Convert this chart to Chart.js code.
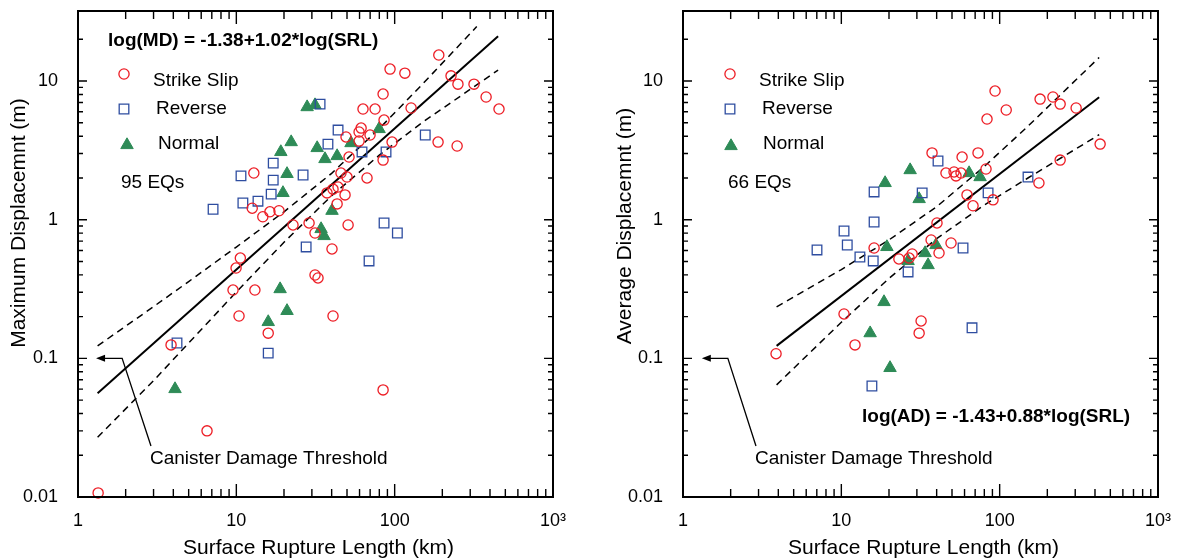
<!DOCTYPE html>
<html>
<head>
<meta charset="utf-8">
<script src="https://cdn.jsdelivr.net/npm/chart.js@4.4.1/dist/chart.umd.min.js"></script>
<style>
  html, body { margin: 0; padding: 0; background: #fff; }
  #wrap { position: relative; width: 1177px; height: 560px; }
  canvas { position: absolute; top: 0; }
  #c1 { left: 0; }
  #c2 { left: 600px; }
</style>
</head>
<body>
<div id="wrap">
  <canvas id="c1" width="590" height="560"></canvas>
  <canvas id="c2" width="577" height="560"></canvas>
</div>
<script>
const FONT = '"Liberation Sans", Arial, Helvetica, sans-serif';
const RED = '#ed1c24', BLUE = '#2e4da0', GREEN = '#2e8b57';

// axis ticks
const xTickVals = [1, 10, 100, 1000];
const xTickLabels = ['1', '10', '100', '10³'];
const yTickVals = [0.01, 0.1, 1, 10];
const yTickLabels = ['0.01', '0.1', '1', '10'];

// ---- left panel: maximum displacement vs surface rupture length ----
const mdSsSrl = [190, 93.5, 116, 227, 251, 317, 378, 456, 84.5, 63.1, 75.2, 127, 85.7, 61.4, 59.6, 69.9, 49.3, 59.6, 96.3, 188,
  248, 84.5, 51.5, 45.8, 50.0, 66.9, 43.9, 40.8, 37.4, 48.6, 43.3, 22.8, 28.8, 31.4, 50.8, 40.2, 31.4, 32.8, 12.9, 12.6,
  14.7, 16.3, 18.6, 10.6, 9.96, 9.53, 13.1, 10.4, 15.9, 40.8, 3.87, 84.5, 6.53, 1.34];
const mdSsMd = [15.4, 12.2, 11.4, 10.9, 9.5, 9.5, 7.67, 6.28, 8.06, 6.28, 6.28, 6.39, 5.23, 4.58, 4.29, 4.08, 3.95, 3.69, 3.63, 3.63,
  3.40, 2.69, 2.83, 2.17, 2.03, 2.00, 1.72, 1.66, 1.56, 1.51, 1.30, 0.916, 0.947, 0.802, 0.916, 0.615, 0.399, 0.380, 2.17, 1.21,
  1.05, 1.14, 1.16, 0.529, 0.448, 0.311, 0.311, 0.202, 0.152, 0.202, 0.125, 0.0592, 0.030, 0.0107];
const mdRvSrl = [33.8, 43.9, 37.9, 62.2, 88.2, 156, 26.4, 85.7, 104, 27.6, 68.9, 17.1, 10.7, 17.1, 16.6, 11.0, 13.7, 7.13, 4.22, 15.9];
const mdRvMd = [6.82, 4.43, 3.51, 3.08, 3.08, 4.08, 2.10, 0.947, 0.802, 0.636, 0.504, 2.56, 2.07, 1.93, 1.53, 1.32, 1.36, 1.19, 0.129, 0.109];
const mdNmSrl = [28.0, 31.4, 79.7, 53.0, 22.2, 19.1, 32.4, 36.3, 43.3, 20.9, 19.7, 40.2, 34.3, 35.8, 18.9, 20.9, 15.9, 4.10];
const mdNmMd = [6.49, 6.71, 4.51, 3.57, 3.63, 3.08, 3.29, 2.74, 2.88, 2.14, 1.56, 1.16, 0.857, 0.763, 0.316, 0.220, 0.183, 0.0601];
const mdFitSrl = [1.33, 450];
const mdFit = [0.056, 21];
const mdUpSrl = [1.33, 3, 5, 10, 20, 40, 80, 150, 330];
const mdUp = [0.123, 0.236, 0.358, 0.635, 1.14, 2.16, 4.54, 9.5, 24.7];
const mdLoSrl = [1.33, 3, 5, 10, 20, 40, 80, 150, 450];
const mdLo = [0.027, 0.069, 0.129, 0.301, 0.687, 1.49, 2.92, 5.04, 12.0];

// ---- right panel: average displacement vs surface rupture length ----
const adSsSrl = [93.5, 180, 217, 241, 304, 110, 83.2, 431, 241, 177, 37.4, 57.9, 73.0, 82.0, 45.8, 51.5, 57.0, 53.0, 62.2, 67.9,
  90.8, 40.2, 36.9, 49.3, 41.4, 28.0, 26.8, 23.1, 16.1, 10.4, 31.9, 31.0, 12.2, 3.87];
const adSsAd = [8.47, 7.41, 7.67, 6.82, 6.39, 6.18, 5.32, 3.51, 2.69, 1.84, 3.03, 2.83, 3.03, 2.32, 2.17, 2.21, 2.17, 2.07, 1.51, 1.26,
  1.39, 0.947, 0.714, 0.679, 0.575, 0.566, 0.529, 0.521, 0.625, 0.209, 0.186, 0.152, 0.125, 0.108];
const adRvSrl = [40.8, 32.4, 84.5, 151, 58.7, 26.4, 16.1, 16.1, 10.4, 10.9, 7.02, 13.1, 15.9, 66.9, 15.6];
const adRvAd = [2.65, 1.56, 1.56, 2.03, 0.625, 0.420, 1.585, 0.962, 0.829, 0.657, 0.605, 0.538, 0.504, 0.166, 0.0632];
const adNmSrl = [27.2, 18.9, 31.0, 64.1, 75.2, 19.4, 26.4, 33.8, 39.6, 35.3, 18.6, 15.2, 20.3];
const adNmAd = [2.28, 1.84, 1.41, 2.17, 2.03, 0.636, 0.504, 0.575, 0.657, 0.471, 0.255, 0.152, 0.0853];
const adFitSrl = [3.9, 425];
const adFit = [0.123, 7.64];
const adUpSrl = [3.9, 10, 20, 40, 80, 150, 425];
const adUp = [0.235, 0.437, 0.715, 1.24, 2.42, 4.69, 14.8];
const adLoSrl = [3.9, 10, 20, 40, 80, 150, 425];
const adLo = [0.0644, 0.182, 0.377, 0.73, 1.276, 1.99, 4.1];

function pts(xs, ys) {
  return xs.map((x, i) => ({ x: x, y: ys[i] }));
}

function markers(label, xs, ys, style) {
  const ds = { label: label, data: pts(xs, ys), pointStyle: style, showLine: false, clip: false };
  if (style === 'circle') {
    Object.assign(ds, { pointRadius: 5.1, borderColor: RED, backgroundColor: 'rgba(0,0,0,0)', borderWidth: 1.3 });
  } else if (style === 'rect') {
    Object.assign(ds, { pointRadius: 6.8, borderColor: BLUE, backgroundColor: 'rgba(0,0,0,0)', borderWidth: 1.3 });
  } else {
    Object.assign(ds, { pointRadius: 7.2, borderColor: GREEN, backgroundColor: GREEN, borderWidth: 1 });
  }
  return ds;
}

function line(xs, ys, dashed) {
  return {
    label: '', data: pts(xs, ys), showLine: true, pointRadius: 0, fill: false,
    borderColor: '#000', borderWidth: dashed ? 1.5 : 2, borderDash: dashed ? [7, 5] : []
  };
}

function drawMarker(ctx, x, y, ds) {
  const r = ds.pointRadius;
  ctx.save();
  ctx.lineWidth = ds.borderWidth;
  ctx.strokeStyle = ds.borderColor;
  ctx.fillStyle = ds.backgroundColor;
  ctx.beginPath();
  if (ds.pointStyle === 'circle') {
    ctx.arc(x, y, r, 0, Math.PI * 2);
  } else if (ds.pointStyle === 'rect') {
    const s = r * Math.SQRT1_2;
    ctx.rect(x - s, y - s, 2 * s, 2 * s);
  } else {
    for (let i = 0; i < 3; i++) {
      const ang = i * 2 * Math.PI / 3;
      const px = x + Math.sin(ang) * r, py = y - Math.cos(ang) * r;
      if (i) ctx.lineTo(px, py); else ctx.moveTo(px, py);
    }
    ctx.closePath();
  }
  ctx.fill();
  ctx.stroke();
  ctx.restore();
}

// frame, inward log ticks, titles, legend and notes
const decor = {
  id: 'decor',
  afterDraw(chart, args, o) {
    const ctx = chart.ctx, a = chart.chartArea;
    const X = v => chart.scales.x.getPixelForValue(v);
    const Y = v => chart.scales.y.getPixelForValue(v);
    ctx.save();
    ctx.strokeStyle = '#000';
    ctx.fillStyle = '#000';

    ctx.lineWidth = 1.4;
    ctx.beginPath();
    for (let k = 0; k <= 2; k++) {
      for (let m = 1; m <= 9; m++) {
        const px = X(m * Math.pow(10, k));
        const len = m === 1 ? 13 : 8;
        ctx.moveTo(px, a.bottom); ctx.lineTo(px, a.bottom - len);
        ctx.moveTo(px, a.top); ctx.lineTo(px, a.top + len);
      }
    }
    for (let k = -2; k <= 1; k++) {
      for (let m = 1; m <= 9; m++) {
        const v = m * Math.pow(10, k);
        if (v > 20) break;
        const py = Y(v);
        const len = m === 1 ? 9 : 5;
        ctx.moveTo(a.left, py); ctx.lineTo(a.left + len, py);
        ctx.moveTo(a.right, py); ctx.lineTo(a.right - len, py);
      }
    }
    ctx.stroke();
    ctx.lineWidth = 2;
    ctx.strokeRect(a.left, a.top, a.right - a.left, a.bottom - a.top);

    ctx.textBaseline = 'middle';
    ctx.textAlign = 'center';
    ctx.font = '21px ' + FONT;
    ctx.fillText('Surface Rupture Length (km)', (a.left + a.right) / 2 + 3, 548);
    ctx.save();
    ctx.translate(o.yTitleX, o.yTitleY);
    ctx.rotate(-Math.PI / 2);
    ctx.fillText(o.yTitle, 0, 0);
    ctx.restore();

    ctx.textAlign = 'left';
    ctx.font = '19px ' + FONT;
    o.legend.forEach(e => {
      const ds = chart.data.datasets[e.ds];
      drawMarker(ctx, e.mx, e.my, ds);
      ctx.fillText(ds.label, e.tx, e.ty);
    });
    ctx.fillText(o.count.text, o.count.x, o.count.y);
    ctx.fillText('Canister Damage Threshold', o.noteX, 459);

    ctx.font = 'bold 19px ' + FONT;
    ctx.fillText(o.equation.text, o.equation.x, o.equation.y);

    const ar = o.arrow;
    const tx = X(ar.tip[0]), ty = Y(ar.tip[1]);
    ctx.lineWidth = 1.3;
    ctx.beginPath();
    ctx.moveTo(tx + 6, ty);
    ctx.lineTo(X(ar.corner[0]), ty);
    ctx.lineTo(X(ar.end[0]), Y(ar.end[1]));
    ctx.stroke();
    ctx.beginPath();
    ctx.moveTo(tx, ty);
    ctx.lineTo(tx + 9, ty - 3.5);
    ctx.lineTo(tx + 9, ty + 3.5);
    ctx.closePath();
    ctx.fill();
    ctx.restore();
  }
};

function makePanel(id, datasets, yWidth, padRight, deco) {
  return new Chart(document.getElementById(id), {
    type: 'scatter',
    data: { datasets: datasets },
    plugins: [decor],
    options: {
      responsive: false,
      animation: false,
      devicePixelRatio: 1,
      layout: { padding: { left: 0, right: padRight, top: 11, bottom: 0 } },
      plugins: { legend: { display: false }, tooltip: { enabled: false }, decor: deco },
      scales: {
        x: {
          type: 'logarithmic', min: 1, max: 1000,
          afterBuildTicks: s => { s.ticks = xTickVals.map(v => ({ value: v })); },
          afterFit: s => { s.height = 63; s.paddingLeft = 0; s.paddingRight = 0; },
          ticks: {
            callback: (v, i) => xTickLabels[i], autoSkip: false, maxRotation: 0,
            padding: 5, color: '#000', font: { family: FONT, size: 18 }
          },
          grid: { display: false },
          border: { display: false }
        },
        y: {
          type: 'logarithmic', min: 0.01, max: 32,
          afterBuildTicks: s => { s.ticks = yTickVals.map(v => ({ value: v })); },
          afterFit: s => { s.width = yWidth; s.paddingTop = 0; s.paddingBottom = 0; },
          ticks: {
            callback: (v, i) => yTickLabels[i], autoSkip: false,
            padding: 12, color: '#000', font: { family: FONT, size: 18 }
          },
          grid: { display: false },
          border: { display: false }
        }
      }
    }
  });
}

makePanel('c1', [
  markers('Strike Slip', mdSsSrl, mdSsMd, 'circle'),
  markers('Reverse', mdRvSrl, mdRvMd, 'rect'),
  markers('Normal', mdNmSrl, mdNmMd, 'triangle'),
  line(mdFitSrl, mdFit, false),
  line(mdUpSrl, mdUp, true),
  line(mdLoSrl, mdLo, true)
], 78, 37, {
  yTitle: 'Maximum Displacemnt (m)', yTitleX: 19, yTitleY: 223,
  legend: [
    { ds: 0, mx: 124, my: 74, tx: 153, ty: 81 },
    { ds: 1, mx: 124, my: 109, tx: 156, ty: 109 },
    { ds: 2, mx: 127, my: 145, tx: 158, ty: 144 }
  ],
  count: { text: '95 EQs', x: 121, y: 183 },
  equation: { text: 'log(MD) = -1.38+1.02*log(SRL)', x: 108, y: 41 },
  arrow: { tip: [1.3, 0.1], corner: [1.9, 0.1], end: [2.89, 0.0233] },
  noteX: 150
});

makePanel('c2', [
  markers('Strike Slip', adSsSrl, adSsAd, 'circle'),
  markers('Reverse', adRvSrl, adRvAd, 'rect'),
  markers('Normal', adNmSrl, adNmAd, 'triangle'),
  line(adFitSrl, adFit, false),
  line(adUpSrl, adUp, true),
  line(adLoSrl, adLo, true)
], 83, 19, {
  yTitle: 'Average Displacemnt (m)', yTitleX: 25, yTitleY: 226,
  legend: [
    { ds: 0, mx: 130, my: 74, tx: 159, ty: 81 },
    { ds: 1, mx: 130, my: 109, tx: 162, ty: 109 },
    { ds: 2, mx: 131, my: 146, tx: 163, ty: 144 }
  ],
  count: { text: '66 EQs', x: 128, y: 183 },
  equation: { text: 'log(AD) = -1.43+0.88*log(SRL)', x: 262, y: 417 },
  arrow: { tip: [1.315, 0.1], corner: [1.92, 0.1], end: [2.89, 0.0233] },
  noteX: 155
});
</script>
</body>
</html>
